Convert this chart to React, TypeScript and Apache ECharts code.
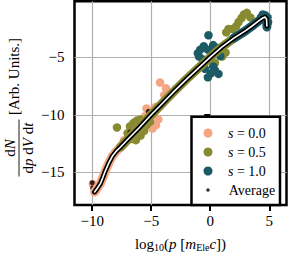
import React, { useEffect, useRef } from 'react';
import * as echarts from 'echarts';

const FONT = '"Liberation Serif", "DejaVu Serif", serif';

const xTicks = [-10, -5, 0, 5];
const yTicks = [-15, -10, -5];

const seriesNames = ['s = 0.0', 's = 0.5', 's = 1.0'];
const seriesColors = ['#f4a582', '#878a31', '#1c5b65'];
// x ranges along the average curve where each series' dense band lies
const bandRanges: [number, number][] = [[-10, -3.6], [-7.7, 3.0], [1.3, 4.9]];

const avgLine: [number, number][] = [
  [-9.8, -16.7], [-9.55, -16.35], [-9.3, -15.95], [-9.1, -15.45], [-8.9, -14.9],
  [-8.6, -14.2], [-8.3, -13.6], [-8.0, -13.2], [-7.6, -12.8], [-7.0, -12.15],
  [-6.0, -11.1], [-5.0, -10.0], [-4.0, -8.95], [-3.0, -7.9], [-2.0, -6.9],
  [-1.0, -5.95], [0, -5.0], [1.0, -4.1], [2.0, -3.35], [3.0, -2.7],
  [3.6, -2.25], [4.1, -1.85], [4.45, -1.6], [4.65, -1.52], [4.77, -1.7], [4.8, -2.3],
];

const s00Points: [number, number][] = [
  [-9.95, -16.0], [-9.7, -16.6], [-7.3, -12.2], [-6.4, -11.5], [-5.8, -10.55],
  [-5.5, -10.1], [-5.4, -9.45], [-5.1, -9.7], [-4.9, -11.2], [-4.6, -10.9],
  [-4.4, -10.4], [-4.25, -7.2], [-3.75, -7.7], [-4.6, -9.3], [-3.9, -8.3],
];

const s05Points: [number, number][] = [
  [-7.9, -11.1], [-7.0, -11.6], [-6.8, -11.0], [-6.5, -10.7], [-6.2, -10.5],
  [-5.9, -10.4], [-6.7, -12.1], [-6.3, -12.2], [-5.9, -11.8], [-5.6, -11.4],
  [-5.4, -10.9], [-5.1, -10.6], [-6.0, -11.3], [-7.3, -12.4],
  [0.4, -5.5], [1.0, -4.95], [1.3, -4.6], [1.35, -2.85], [1.55, -2.55],
  [1.9, -2.55], [2.2, -2.3], [2.65, -1.6], [2.85, -1.3], [3.1, -1.15],
  [3.4, -1.55], [2.4, -1.95],
];

const s10Points: [number, number][] = [
  [-0.15, -3.1], [-1.05, -4.65], [-0.85, -4.35], [-0.55, -4.05], [-0.2, -4.35],
  [0.25, -3.95], [0.6, -4.2], [-0.95, -4.95], [-0.6, -5.2], [0.85, -4.9],
  [-0.45, -6.0], [0.05, -6.4], [0.4, -6.15], [0.7, -6.45], [-0.2, -6.75],
  [0.25, -5.8], [-0.7, -5.6],
  [4.45, -1.3], [4.65, -1.35], [4.85, -1.55], [4.9, -1.95], [4.8, -2.4], [4.3, -1.55],
];

const avgPoints: [number, number][] = [
  [-10.0, -15.9], [-9.97, -16.35], [-9.85, -16.8], [-8.0, -13.15], [-6.8, -11.5],
  [-5.25, -9.7], [-4.1, -8.85], [-2.5, -7.4], [-1.2, -6.1], [0.28, -4.52],
  [0.99, -3.97], [2.6, -2.95], [3.9, -2.0], [4.6, -1.55],
];

const pointSets = [s00Points, s05Points, s10Points];

const fmt = (v: number) => String(v).replace('-', '\u2212');

function buildOption(): any {
  const series: any[] = [];
  seriesNames.forEach((name, i) => {
    series.push({
      name,
      type: 'scatter',
      data: pointSets[i],
      symbol: 'circle',
      symbolSize: 8.5,
      itemStyle: { color: seriesColors[i], opacity: 1 },
      silent: true,
    });
    const [a, b] = bandRanges[i];
    series.push({
      name,
      type: 'line',
      data: avgLine.filter((p) => p[0] >= a && p[0] <= b),
      showSymbol: false,
      symbol: 'none',
      lineStyle: { color: seriesColors[i], width: 9, cap: 'round', join: 'round' },
      itemStyle: { color: seriesColors[i] },
      silent: true,
    });
  });
  series.push({
    type: 'line',
    data: avgLine,
    showSymbol: false,
    symbol: 'none',
    lineStyle: { color: '#000', width: 5, cap: 'round', join: 'round' },
    silent: true,
  });
  series.push({
    type: 'line',
    data: avgLine,
    showSymbol: false,
    symbol: 'none',
    lineStyle: { color: '#fff', width: 1.6, cap: 'round', join: 'round' },
    silent: true,
  });
  series.push({
    name: 'Average',
    type: 'scatter',
    data: avgPoints,
    symbol: 'circle',
    symbolSize: 5,
    itemStyle: { color: '#000' },
    silent: true,
  });

  const italic = { fontStyle: 'italic', fontFamily: FONT, fontSize: 15, color: '#000' };
  const sub = { fontFamily: FONT, fontSize: 10, color: '#000', padding: [7, 0, 0, 0] };

  return {
    animation: false,
    backgroundColor: '#fff',
    grid: {
      left: 74.5,
      right: 2.5,
      top: 1.3,
      bottom: 45.3,
      show: true,
      borderColor: '#000',
      borderWidth: 2.5,
      backgroundColor: 'transparent',
    },
    xAxis: {
      type: 'value',
      min: -11.5,
      max: 6.46,
      axisLine: { show: false },
      axisTick: { show: true, customValues: xTicks, length: 6, lineStyle: { color: '#000', width: 2 } },
      axisLabel: {
        customValues: xTicks,
        formatter: (v: number) => fmt(v),
        margin: 8,
        color: '#000',
        fontFamily: FONT,
        fontSize: 15,
      },
      splitLine: { show: true, lineStyle: { color: '#b0b0b0', width: 1.2 } },
      name: 'log{sub|10}({i|p} [{i|m}{sub|Ele}{i|c}])',
      nameLocation: 'middle',
      nameGap: 30,
      nameTextStyle: {
        fontFamily: FONT,
        fontSize: 15,
        color: '#000',
        rich: { i: italic, sub },
      },
    },
    yAxis: {
      type: 'value',
      min: -17.83,
      max: -0.15,
      axisLine: { show: false },
      axisTick: { show: true, customValues: yTicks, length: 6, lineStyle: { color: '#000', width: 2 } },
      axisLabel: {
        customValues: yTicks,
        formatter: (v: number) => fmt(v),
        margin: 10,
        color: '#000',
        fontFamily: FONT,
        fontSize: 15,
      },
      splitLine: { show: true, lineStyle: { color: '#b0b0b0', width: 1.2 } },
    },
    legend: [
      {
        data: seriesNames.map((n) => ({ name: n, icon: 'circle' })),
        orient: 'vertical',
        left: 203.5,
        top: 125,
        padding: 0,
        itemWidth: 9,
        itemHeight: 9,
        itemGap: 3,
        selectedMode: false,
        formatter: (name: string) => '{i|s} ' + name.slice(2),
        textStyle: {
          fontFamily: FONT,
          fontSize: 14,
          lineHeight: 16,
          color: '#000',
          padding: [0, 0, 0, 10.5],
          rich: { i: { fontStyle: 'italic', fontFamily: FONT, fontSize: 14, color: '#000' } },
        },
        z: 5,
      },
      {
        data: [{ name: 'Average', icon: 'circle' }],
        orient: 'vertical',
        left: 206.25,
        top: 182,
        padding: 0,
        itemWidth: 3.5,
        itemHeight: 3.5,
        selectedMode: false,
        textStyle: {
          fontFamily: FONT,
          fontSize: 14,
          lineHeight: 16,
          color: '#000',
          padding: [0, 0, 0, 14],
        },
        z: 5,
      },
    ],
    graphic: [
      {
        type: 'rect',
        shape: { x: 191.5, y: 116.7, width: 88.5, height: 88.3 },
        style: { fill: '#fff', stroke: '#000', lineWidth: 2.5 },
        z: 4,
        silent: true,
      },
      {
        type: 'group',
        x: 19,
        y: 106.5,
        rotation: Math.PI / 2,
        silent: true,
        children: [
          {
            type: 'text',
            x: -41.5,
            y: -1.5,
            style: {
              text: 'd{i|N}',
              fontFamily: FONT,
              fontSize: 15,
              fill: '#000',
              align: 'center',
              verticalAlign: 'bottom',
              rich: { i: { fontStyle: 'italic', fontFamily: FONT, fontSize: 15, fill: '#000' } },
            },
          },
          {
            type: 'line',
            shape: { x1: -70, y1: 0, x2: -13, y2: 0 },
            style: { stroke: '#000', lineWidth: 0.9 },
          },
          {
            type: 'text',
            x: -41.5,
            y: 1.5,
            style: {
              text: 'd{i|p} d{i|V} d{i|t}',
              fontFamily: FONT,
              fontSize: 15,
              fill: '#000',
              align: 'center',
              verticalAlign: 'top',
              rich: { i: { fontStyle: 'italic', fontFamily: FONT, fontSize: 15, fill: '#000' } },
            },
          },
          {
            type: 'text',
            x: -8.5,
            y: -5,
            style: {
              text: '[Arb. Units.]',
              fontFamily: FONT,
              fontSize: 15,
              fill: '#000',
              align: 'left',
              verticalAlign: 'middle',
            },
          },
        ],
      },
    ],
    series,
  };
}

export default function App() {
  const ref = useRef<HTMLDivElement>(null);
  useEffect(() => {
    document.body.style.margin = '0';
    const chart = echarts.init(ref.current as HTMLDivElement, null, { renderer: 'svg' });
    chart.setOption(buildOption());
    return () => chart.dispose();
  }, []);
  return <div ref={ref} style={{ width: 289, height: 257 }} />;
}
